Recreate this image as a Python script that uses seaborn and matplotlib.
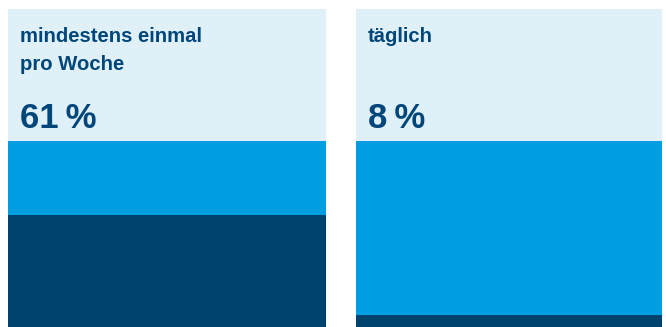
import matplotlib
matplotlib.use("Agg")
import matplotlib.pyplot as plt
import seaborn as sns
import pandas as pd
from matplotlib.patches import Rectangle

categories = ["mindestens einmal\npro Woche", "täglich"]
values = [61, 8]
labels = ["61\u2009%", "8\u2009%"]

sns.set_theme(style="white")
plt.rcParams['font.family'] = ['Liberation Sans', 'DejaVu Sans']

W, H = 666, 327
fig = plt.figure(figsize=(W / 100, H / 100), dpi=100)

light_bg = "#DFF0F9"
blue = "#009EE0"
navy = "#00436F"
text_c = "#00467A"

panels = [(8, 326), (356, 662)]
top_header = 9
bar_top = 141
bar_bottom = 330

for i, (x0, x1) in enumerate(panels):
    fig.patches.append(Rectangle((x0 / W, 1 - bar_top / H), (x1 - x0) / W,
                                 (bar_top - top_header) / H,
                                 transform=fig.transFigure, color=light_bg,
                                 linewidth=0, zorder=0))
    ax = fig.add_axes([x0 / W, 1 - bar_bottom / H, (x1 - x0) / W, (bar_bottom - bar_top) / H])
    df = pd.DataFrame({"cat": [categories[i]], "full": [100], "val": [values[i]]})
    sns.barplot(data=df, x="cat", y="full", color=blue, width=1.0, ax=ax,
                saturation=1, linewidth=0, edgecolor="none")
    sns.barplot(data=df, x="cat", y="val", color=navy, width=1.0, ax=ax,
                saturation=1, linewidth=0, edgecolor="none")
    ax.set_xlim(-0.5, 0.5)
    ax.set_ylim(0, 100)
    ax.axis("off")
    tx = x0 + 12
    lines = categories[i].split("\n")
    for j, ln in enumerate(lines):
        fig.text(tx / W, 1 - (42 + 28 * j) / H, ln, fontsize=14.6, fontweight="bold",
                 color=text_c, va="baseline", ha="left")
    fig.text(tx / W, 1 - 128 / H, labels[i], fontsize=25, fontweight="bold",
             color=text_c, va="baseline", ha="left")

fig.savefig("out.png", dpi=100)
